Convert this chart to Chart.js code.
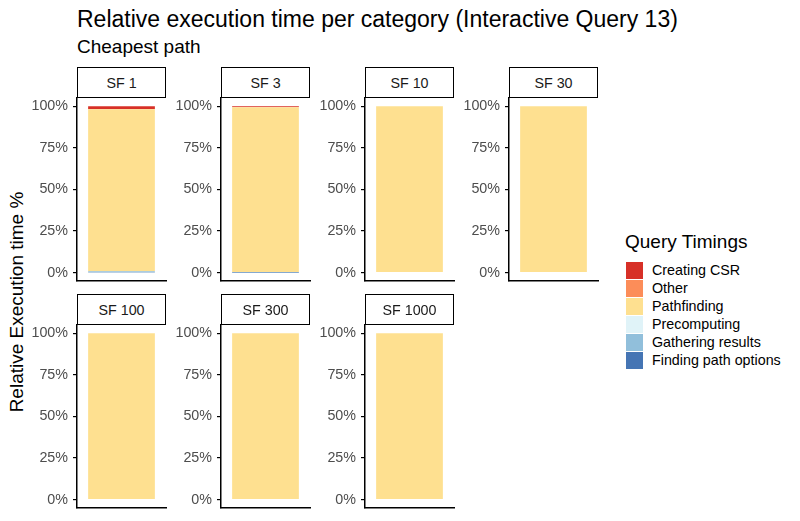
<!DOCTYPE html>
<html>
<head>
<meta charset="utf-8">
<script src="https://cdn.jsdelivr.net/npm/chart.js@4/dist/chart.umd.min.js"></script>
<style>
  body { margin: 0; background: #fff; font-family: "Liberation Sans", Arial, sans-serif; }
  #page { position: relative; width: 800px; height: 521px; overflow: hidden; }
  .abs { position: absolute; white-space: nowrap; }
  .strip { position: absolute; box-sizing: border-box; border: 1.5px solid #000; width: 89px; height: 31px;
           font-size: 14.3px; display: flex; align-items: center; justify-content: center; color: #1a1a1a; }
  canvas { position: absolute; }
  .key { position: absolute; width: 17px; height: 17px; }
  .lab { position: absolute; font-size: 14.3px; color: #000; }
</style>
</head>
<body>
<div id="page">
  <div class="abs" style="left:77px; top:6px; font-size:23px; color:#000;">Relative execution time per category (Interactive Query 13)</div>
  <div class="abs" style="left:77px; top:36px; font-size:19px; color:#000;">Cheapest path</div>
  <div class="abs" style="left:17px; top:302px; font-size:19px; transform: translate(-50%, -50%) rotate(-90deg);">Relative Execution time %</div>
  <div class="abs" style="left:625px; top:231px; font-size:19px;">Query Timings</div>
</div>
<script>
const categories = ['SF 1', 'SF 3', 'SF 10', 'SF 30', 'SF 100', 'SF 300', 'SF 1000'];
const timingNames = ['Creating CSR', 'Other', 'Pathfinding', 'Precomputing', 'Gathering results', 'Finding path options'];
const timingColors = ['#D73027', '#FC8D59', '#FEE090', '#E0F3F8', '#91BFDB', '#4575B4'];

// share of the total per category
const creatingCsr = [0.016, 0.004, 0, 0, 0, 0, 0];
const other = [0.002, 0.001, 0, 0, 0, 0, 0];
const pathfinding = [0.973, 0.991, 1, 1, 1, 1, 1];
const precomputing = [0.001, 0, 0, 0, 0, 0, 0];
const gatheringResults = [0.006, 0.003, 0, 0, 0, 0, 0];
const findingPathOptions = [0.002, 0.001, 0, 0, 0, 0, 0];
const yTicks = [0, 0.25, 0.5, 0.75, 1];

const series = [creatingCsr, other, pathfinding, precomputing, gatheringResults, findingPathOptions];
const page = document.getElementById('page');

// legend
timingNames.forEach((name, i) => {
    const k = document.createElement('div');
    k.className = 'key';
    k.style.left = '626px';
    k.style.top = (262 + i * 18) + 'px';
    k.style.background = timingColors[i];
    page.appendChild(k);
    const l = document.createElement('div');
    l.className = 'lab';
    l.style.left = '652px';
    l.style.top = (262 + i * 18) + 'px';
    l.textContent = name;
    page.appendChild(l);
});

categories.forEach((cat, i) => {
    const col = i % 4, row = Math.floor(i / 4);
    const left = 20 + col * 144;
    const top = 98 + row * 227;   // top of plot area

    const strip = document.createElement('div');
    strip.className = 'strip';
    strip.style.left = (left + 57) + 'px';
    strip.style.top = (top - 31) + 'px';
    strip.textContent = cat;
    page.appendChild(strip);

    const cv = document.createElement('canvas');
    cv.width = 147; cv.height = 191;
    cv.style.left = left + 'px';
    cv.style.top = (top - 6) + 'px';
    page.appendChild(cv);

    // ggplot stacks the first level on top, so reverse for Chart.js
    const datasets = timingNames.map((name, j) => ({
        label: name,
        data: [series[j][i]],
        backgroundColor: timingColors[j],
        borderWidth: 0,
        barPercentage: 0.75,
        categoryPercentage: 1
    })).reverse();

    new Chart(cv.getContext('2d'), {
        type: 'bar',
        data: { labels: [cat], datasets: datasets },
        options: {
            responsive: false,
            animation: false,
            layout: { padding: { top: 6, right: 1, bottom: 2, left: 0 } },
            plugins: { legend: { display: false }, tooltip: { enabled: false } },
            scales: {
                x: {
                    stacked: true,
                    ticks: { display: false },
                    grid: { display: false },
                    border: { display: true, color: '#000', width: 1.5 },
                    afterFit: s => { s.height = 0; s.paddingLeft = 0; s.paddingRight = 0; }
                },
                y: {
                    stacked: true,
                    min: -0.05,
                    max: 1.05,
                    afterBuildTicks: s => { s.ticks = yTicks.map(v => ({ value: v })); },
                    ticks: {
                        color: '#4D4D4D',
                        font: { family: 'Liberation Sans', size: 14.3 },
                        padding: 5,
                        callback: v => Math.round(v * 100) + '%'
                    },
                    grid: { display: true, drawOnChartArea: false, drawTicks: true, tickLength: 4, color: '#000', lineWidth: 1.2 },
                    border: { display: true, color: '#000', width: 1.5 },
                    afterFit: s => { s.width = 57; s.paddingTop = 0; s.paddingBottom = 0; }
                }
            }
        }
    });
});
</script>
</body>
</html>
